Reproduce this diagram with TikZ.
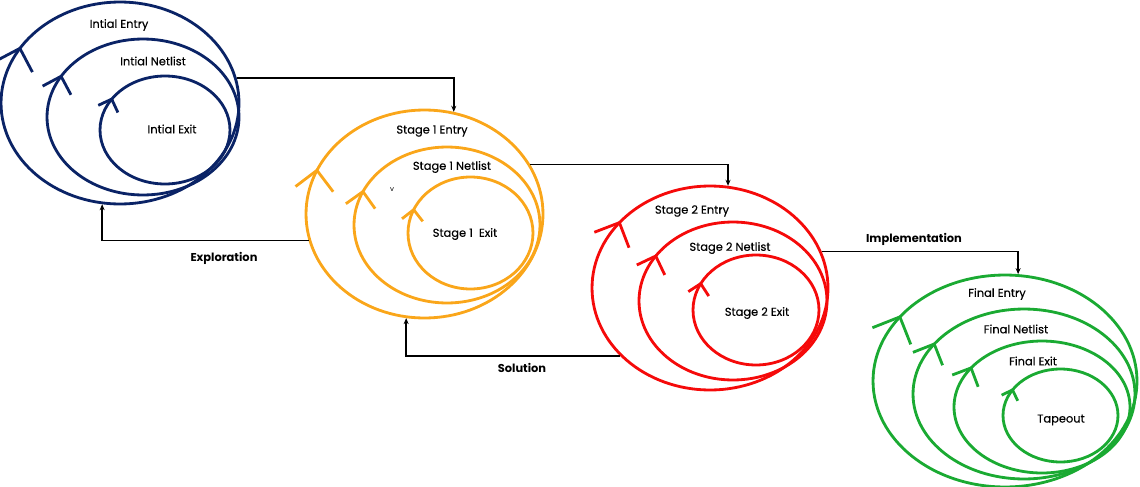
\documentclass[tikz,border=0pt]{standalone}
\usepackage{fontspec}
\setmainfont{Poppins}
\usepackage{tikz}
\usetikzlibrary{arrows.meta,shapes.geometric,decorations.markings}

\definecolor{navy}{RGB}{10,35,102}
\definecolor{amber}{RGB}{250,166,26}
\definecolor{flame}{RGB}{245,10,10}
\definecolor{leaf}{RGB}{26,170,50}

\begin{document}
\begin{tikzpicture}[x=0.02cm, y=-0.02cm,
  ring/.style={draw, ellipse, inner sep=0pt, line width=1.6pt},
  tipat/.style 2 args={postaction={decorate}, decoration={markings, mark=at position #1 with {\draw[line width=1.6pt, rotate=20] (-#2*3.8mm,#2*3.8mm) -- (0pt,0pt) -- (-#2*3.8mm,-#2*3.8mm);}}},
  link/.style={line width=0.8pt, -{Stealth[length=1.2mm, width=1mm]}},
  lbl/.style={font=\fontsize{6.5}{7}\selectfont\addfontfeature{FakeBold=0.4}},
  tag/.style={font=\bfseries\fontsize{6.5}{7}\selectfont}]
\useasboundingbox (0,0) rectangle (1140,487);

\node[ring, navy, minimum width=4.76cm, minimum height=4.04cm] (b1) at (120,103) {};
\node[ring, navy, minimum width=3.84cm, minimum height=3.12cm] (b2) at (143,117) {};
\node[ring, navy, minimum width=2.6cm, minimum height=2.16cm] (b3) at (165,130) {};
\path[navy, tipat={0.585}{1}] (b1.center) ellipse [x radius=119, y radius=101];
\path[navy, tipat={0.58}{0.78}] (b2.center) ellipse [x radius=96, y radius=78];
\path[navy, tipat={0.59}{0.55}] (b3.center) ellipse [x radius=65, y radius=54];
\node[lbl] (b1t) at (119,25) {Intial Entry};
\node[lbl] (b2t) at (153,61) {Intial Netlist};
\node[lbl] (b3t) at (172,129) {Intial Exit};

\node[ring, amber, minimum width=4.74cm, minimum height=4.16cm] (o1) at (424.5,214) {};
\node[ring, amber, minimum width=3.72cm, minimum height=3.12cm] (o2) at (447,225) {};
\node[ring, amber, minimum width=2.5cm, minimum height=2.24cm] (o3) at (470.5,233) {};
\path[amber, tipat={0.565}{1}] (o1.center) ellipse [x radius=118.5, y radius=104];
\path[amber, tipat={0.565}{0.78}] (o2.center) ellipse [x radius=93, y radius=78];
\path[amber, tipat={0.565}{0.55}] (o3.center) ellipse [x radius=62.5, y radius=56];
\node[lbl] (o1t) at (432,131) {Stage 1 Entry};
\node[lbl] (o2t) at (452,167) {Stage 1 Netlist};
\node[lbl] (o3t) at (465,234) {Stage 1\ \ Exit};
\node[font=\fontsize{4}{4}\selectfont] (vmark) at (392,190) {v};

\node[ring, flame, minimum width=4.72cm, minimum height=4.08cm] (r1) at (710,288) {};
\node[ring, flame, minimum width=3.76cm, minimum height=3.16cm] (r2) at (733,301) {};
\node[ring, flame, minimum width=2.52cm, minimum height=2.2cm] (r3) at (756,310) {};
\path[flame, tipat={0.605}{1}] (r1.center) ellipse [x radius=118, y radius=102];
\path[flame, tipat={0.59}{0.78}] (r2.center) ellipse [x radius=94, y radius=79];
\path[flame, tipat={0.575}{0.55}] (r3.center) ellipse [x radius=63, y radius=55];
\node[lbl] (r1t) at (692,211) {Stage 2 Entry};
\node[lbl] (r2t) at (730,248) {Stage 2 Netlist};
\node[lbl] (r3t) at (757,313) {Stage 2 Exit};

\node[ring, leaf, minimum width=5.28cm, minimum height=4.24cm] (g1) at (1005,381) {};
\node[ring, leaf, minimum width=4.44cm, minimum height=3.4cm] (g2) at (1024,394) {};
\node[ring, leaf, minimum width=3.52cm, minimum height=2.64cm] (g3) at (1042,407) {};
\node[ring, leaf, minimum width=2.3cm, minimum height=1.86cm] (g4) at (1060.5,415.5) {};
\path[leaf, tipat={0.595}{1.1}] (g1.center) ellipse [x radius=132, y radius=106];
\path[leaf, tipat={0.59}{0.85}] (g2.center) ellipse [x radius=111, y radius=85];
\path[leaf, tipat={0.59}{0.75}] (g3.center) ellipse [x radius=88, y radius=66];
\path[leaf, tipat={0.585}{0.45}] (g4.center) ellipse [x radius=57.5, y radius=46.5];
\node[lbl] (g1t) at (997,294) {Final Entry};
\node[lbl] (g2t) at (1016,329) {Final Netlist};
\node[lbl] (g3t) at (1033,361) {Final Exit};
\node[lbl] (g4t) at (1061,420) {Tapeout};

\draw[link] (b1.12) -| (o1.74);
\draw[link] (o1.25) -| (r1.80);
\draw[link] (r1.18) -| (g1.83);
\draw[link] (o1.193) -| (b1.260);
\draw[link] (r1.217) -| (o1.260);
\node[tag] (explore) at (224,258) {Exploration};
\node[tag] (solve) at (522,368) {Solution};
\node[tag] (impl) at (914,239) {Implementation};
\end{tikzpicture}
\end{document}
